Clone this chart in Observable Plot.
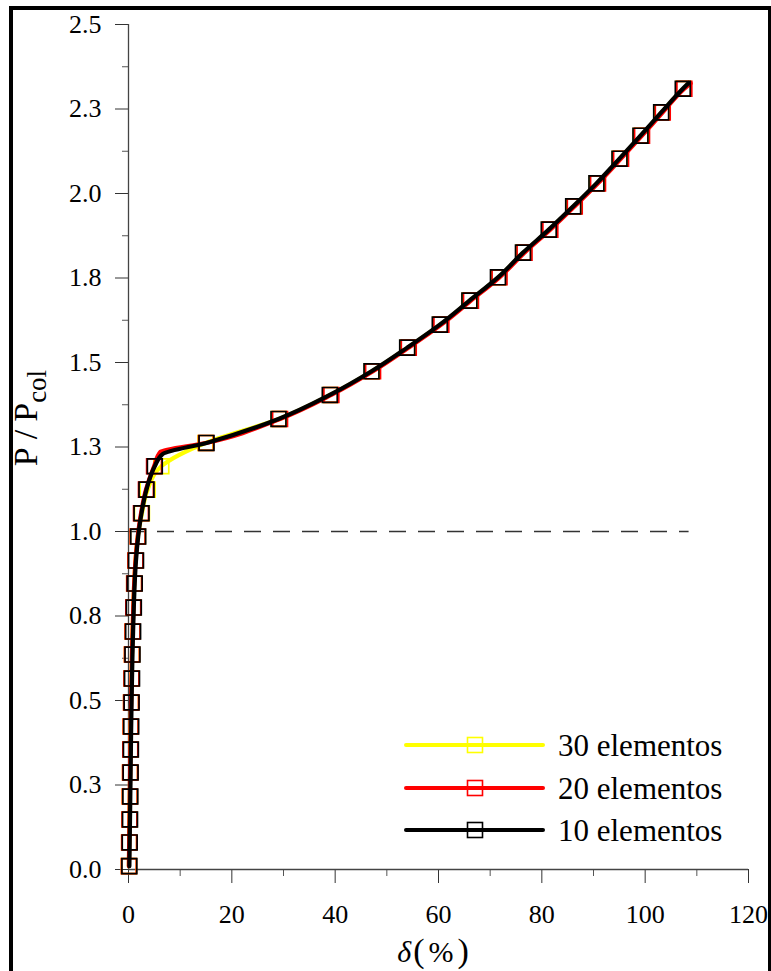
<!DOCTYPE html>
<html>
<head>
<meta charset="utf-8">
<script src="https://cdn.jsdelivr.net/npm/d3@7"></script>
<script src="https://cdn.jsdelivr.net/npm/@observablehq/plot@0.6"></script>
<style>
  html, body { margin: 0; padding: 0; background: #fff; }
  #wrap { position: relative; width: 771px; height: 971px; overflow: hidden; }
  #wrap svg { position: absolute; left: 0; top: 0; }
  #frame { position: absolute; left: 9px; top: 6px; right: 0; bottom: -10px;
           border-left: 4px solid #000; border-top: 4px solid #000; border-right: 3px solid #000;
           pointer-events: none; }
</style>
</head>
<body>
<div id="wrap"><div id="frame"></div></div>
<script>
// ---- data ----
const seriesNames = ["30 elementos", "20 elementos", "10 elementos"];
const seriesColors = ["#ffff00", "#ff0000", "#000000"];

// load steps P / Pcol (shared by the three meshes)
const loadP = [0.010, 0.080, 0.148, 0.216, 0.287, 0.355, 0.423, 0.494, 0.565, 0.636,
               0.704, 0.775, 0.846, 0.914, 0.985, 1.054, 1.124, 1.193, 1.262, 1.333,
               1.404, 1.474, 1.544, 1.612, 1.683, 1.752, 1.825, 1.893, 1.962, 2.030,
               2.103, 2.171, 2.240, 2.310];

// deflection δ (%) for each mesh
const delta30 = [0.07, 0.13, 0.19, 0.25, 0.31, 0.36, 0.42, 0.50, 0.58, 0.67,
                 0.79, 0.93, 1.10, 1.35, 1.80, 2.60, 3.70, 6.35, 14.90, 29.13,
                 39.06, 47.13, 54.04, 60.35, 66.08, 71.61, 76.45, 81.44, 86.17, 90.67,
                 95.13, 99.19, 103.20, 107.38];
const delta20 = [0.07, 0.13, 0.19, 0.25, 0.31, 0.36, 0.42, 0.50, 0.58, 0.67,
                 0.79, 0.93, 1.10, 1.35, 1.78, 2.42, 3.38, 4.95, 15.00, 29.33,
                 39.26, 47.33, 54.24, 60.55, 66.28, 71.81, 76.65, 81.64, 86.37, 90.87,
                 95.33, 99.39, 103.40, 107.58];
const delta10 = [0.17, 0.23, 0.29, 0.35, 0.41, 0.46, 0.52, 0.60, 0.68, 0.77,
                 0.89, 1.03, 1.20, 1.45, 1.88, 2.52, 3.48, 5.09, 15.10, 29.03,
                 38.96, 47.03, 53.94, 60.25, 65.98, 71.51, 76.35, 81.34, 86.07, 90.57,
                 95.03, 99.09, 103.10, 107.28];

// extra curve points (no marker): knee of the curve and end of the line
const kneeDelta = [null, 6.2, 6.6];
const kneeP     = [null, 1.236, 1.229];
const endDelta  = [108.5, 108.8, 108.4];
const endP      = [2.326, 2.326, 2.327];

// reference line P / Pcol = 1
const refP = [1.0];
const refDelta = [0, 108.5];

// axis ticks
const xMajorTicks = [0, 20, 40, 60, 80, 100, 120];
const xTickLabels = ["0", "20", "40", "60", "80", "100", "120"];
const xMinorTicks = [10, 30, 50, 70, 90, 110];
const yMajorTicks = [0, 0.25, 0.5, 0.75, 1.0, 1.25, 1.5, 1.75, 2.0, 2.25, 2.5];
const yTickLabels = ["0.0", "0.3", "0.5", "0.8", "1.0", "1.3", "1.5", "1.8", "2.0", "2.3", "2.5"];
const yMinorTicks = [0.125, 0.375, 0.625, 0.875, 1.125, 1.375, 1.625, 1.875, 2.125, 2.375];

// ---- build ----
const deltas = [delta30, delta20, delta10];
const serif = '"Liberation Serif", "Times New Roman", Times, serif';

const seriesMarks = [];
deltas.forEach((d, s) => {
  const pts = loadP.map((p, i) => ({x: d[i], y: p}));
  const linePts = pts.slice();
  if (kneeDelta[s] != null) linePts.push({x: kneeDelta[s], y: kneeP[s]});
  linePts.push({x: endDelta[s], y: endP[s]});
  linePts.sort((a, b) => a.y - b.y);
  seriesMarks.push(
    Plot.dot(pts, {x: "x", y: "y", symbol: "square", r: 8.4, fill: "none",
                   stroke: seriesColors[s], strokeWidth: 1.7}),
    Plot.line(linePts, {x: "x", y: "y", stroke: seriesColors[s], strokeWidth: 4.2,
                        curve: "monotone-y", strokeLinejoin: "round", strokeLinecap: "round"})
  );
});

const chart = Plot.plot({
  width: 771,
  height: 971,
  marginLeft: 128,
  marginRight: 23,
  marginTop: 24,
  marginBottom: 102,
  style: {fontFamily: serif, fontSize: "26px", color: "#000", background: "transparent"},
  x: {domain: [0, 120]},
  y: {domain: [0, 2.5]},
  marks: [
    Plot.axisY({ticks: yMinorTicks, tickSize: 6, tickFormat: () => "", label: null, stroke: "#555"}),
    Plot.axisY({ticks: yMajorTicks, tickSize: 13, tickPadding: 14, label: null, stroke: "#333",
                fontSize: 26, tickFormat: d => yTickLabels[yMajorTicks.indexOf(d)]}),
    Plot.axisX({ticks: xMinorTicks, tickSize: 7, tickFormat: () => "", label: null, stroke: "#555"}),
    Plot.axisX({ticks: xMajorTicks, tickSize: 14, tickPadding: 21, label: null, stroke: "#333",
                fontSize: 26, tickFormat: d => xTickLabels[xMajorTicks.indexOf(d)]}),
    Plot.ruleX([0], {stroke: "#444", strokeWidth: 1.3}),
    Plot.ruleY([0], {stroke: "#444", strokeWidth: 1.3}),
    Plot.ruleY(refP, {x1: refDelta[0], x2: refDelta[1], stroke: "#333", strokeWidth: 1.3,
                      strokeDasharray: "17,12"}),
    ...seriesMarks
  ]
});

document.getElementById("wrap").insertBefore(chart, document.getElementById("frame"));

const svg = d3.select(chart);

// y-axis title: P / Pcol
const yt = svg.append("text")
  .attr("transform", "translate(37,418) rotate(-90)")
  .attr("text-anchor", "middle")
  .attr("font-family", serif)
  .attr("font-size", 34)
  .attr("fill", "#000");
yt.append("tspan").text("P");
yt.append("tspan").attr("dx", 8).text("/");
yt.append("tspan").attr("dx", 8).text("P");
yt.append("tspan").attr("font-size", 27).attr("dy", 9).text("col");

// x-axis title: δ(%)
const xt = svg.append("text")
  .attr("x", 433).attr("y", 962)
  .attr("text-anchor", "middle")
  .attr("font-family", serif)
  .attr("font-size", 30)
  .attr("fill", "#000");
xt.append("tspan").attr("font-style", "italic").text("δ");
xt.append("tspan").attr("font-size", 34).attr("dx", 2).text("(");
xt.append("tspan").attr("dx", 4).text("%");
xt.append("tspan").attr("font-size", 34).attr("dx", 4).text(")");

// legend
const legY = [745, 788, 830];
const lg = svg.append("g").attr("text-anchor", "start");
seriesNames.forEach((name, i) => {
  const y = legY[i];
  lg.append("line").attr("x1", 406).attr("x2", 543).attr("y1", y).attr("y2", y)
    .attr("stroke", seriesColors[i]).attr("stroke-width", 4).attr("stroke-linecap", "round");
  lg.append("rect").attr("x", 467.5).attr("y", y - 7.5).attr("width", 15).attr("height", 15)
    .attr("fill", "none").attr("stroke", seriesColors[i]).attr("stroke-width", 1.6);
  lg.append("text").attr("x", 558).attr("y", y + 11).attr("text-anchor", "start")
    .attr("font-family", serif).attr("font-size", 31).attr("fill", "#000").text(name);
});
</script>
</body>
</html>
